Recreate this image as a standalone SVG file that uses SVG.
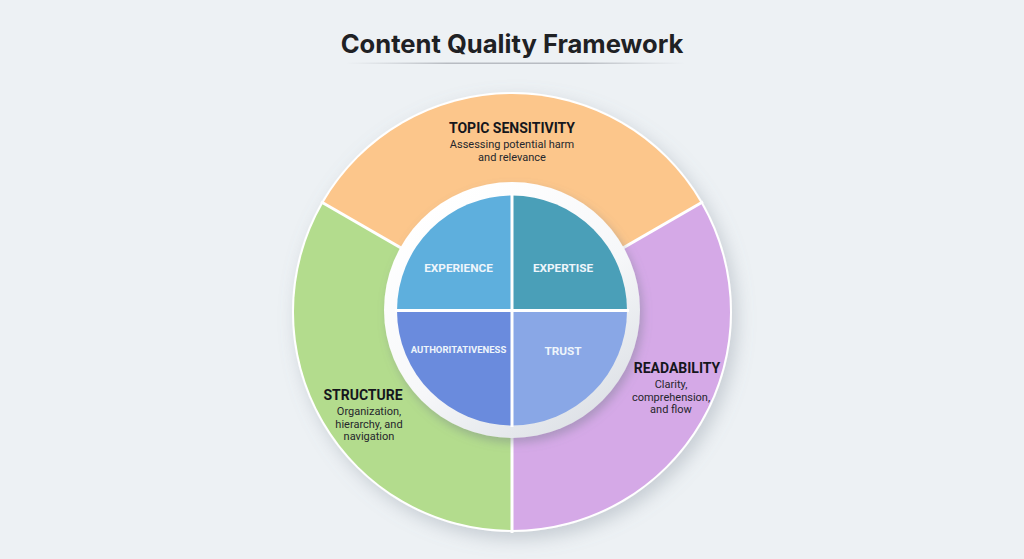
<svg xmlns="http://www.w3.org/2000/svg" width="1024" height="559" viewBox="0 0 1024 559">
  <defs>
    <style>
      .title { font-family: Inter, "Liberation Sans", sans-serif; font-weight: 700; font-size: 25.6px; fill: #1f2124; }
      .head { font-family: Roboto, "Liberation Sans", sans-serif; font-weight: 700; font-size: 14px; fill: #15161c; }
      .sub { font-family: Roboto, "Liberation Sans", sans-serif; font-weight: 400; font-size: 11px; fill: #25262c; }
      .quad { font-family: Roboto, "Liberation Sans", sans-serif; font-weight: 700; font-size: 11.8px; fill: #eef5fb; }
      .quad-s { font-family: Roboto, "Liberation Sans", sans-serif; font-weight: 700; font-size: 9.5px; fill: #eef5fb; }
      .divider { stroke: #ffffff; stroke-width: 3; fill: none; }
    </style>
    <linearGradient id="rule" x1="0" x2="1" y1="0" y2="0">
      <stop offset="0" stop-color="#c4c8cd" stop-opacity="0"/>
      <stop offset="0.3" stop-color="#b8bcc2"/>
      <stop offset="0.7" stop-color="#b8bcc2"/>
      <stop offset="1" stop-color="#c4c8cd" stop-opacity="0"/>
    </linearGradient>
    <linearGradient id="ring" x1="0.2" y1="0.1" x2="0.8" y2="0.95">
      <stop offset="0" stop-color="#ffffff"/>
      <stop offset="0.55" stop-color="#f6f7f9"/>
      <stop offset="1" stop-color="#dde1e6"/>
    </linearGradient>
    <filter id="outerShadow" x="-20%" y="-20%" width="140%" height="140%">
      <feDropShadow dx="5" dy="7" stdDeviation="9" flood-color="#7d8794" flood-opacity="0.35"/>
    </filter>
    <filter id="innerShadow" x="-20%" y="-20%" width="140%" height="140%">
      <feDropShadow dx="3" dy="5" stdDeviation="5" flood-color="#6f7884" flood-opacity="0.4"/>
    </filter>
  </defs>

  <rect width="1024" height="559" fill="#edf1f4"/>

  <g id="title">
    <text class="title" x="512" y="53" text-anchor="middle">Content Quality Framework</text>
    <rect x="345" y="62.5" width="340" height="1.5" fill="url(#rule)"/>
  </g>

  <circle cx="512" cy="312" r="220" fill="#ffffff" filter="url(#outerShadow)"/>

  <g id="topic-sensitivity">
    <path d="M512,312 L323.2,203 A218,218 0 0 1 700.8,203 Z" fill="#fcc68b"/>
  </g>
  <g id="structure">
    <path d="M512,312 L512,530 A218,218 0 0 1 323.2,203 Z" fill="#b3dc8d"/>
  </g>
  <g id="readability">
    <path d="M512,312 L700.8,203 A218,218 0 0 1 512,530 Z" fill="#d5a9e7"/>
  </g>

  <g id="connectors">
    <line class="divider" x1="512" y1="312" x2="321" y2="201.8"/>
    <line class="divider" x1="512" y1="312" x2="703" y2="201.8"/>
    <line class="divider" x1="512" y1="312" x2="512" y2="533"/>
  </g>

  <g id="inner-ring">
    <circle cx="512" cy="310" r="128" fill="url(#ring)" filter="url(#innerShadow)"/>
  </g>

  <g id="experience">
    <path d="M512,310.5 L397,310.5 A115,115 0 0 1 512,195.5 Z" fill="#5eafdd"/>
    <text class="quad" x="458.5" y="272" text-anchor="middle">EXPERIENCE</text>
  </g>
  <g id="expertise">
    <path d="M512,310.5 L512,195.5 A115,115 0 0 1 627,310.5 Z" fill="#4a9fb8"/>
    <text class="quad" x="563" y="272" text-anchor="middle">EXPERTISE</text>
  </g>
  <g id="authoritativeness">
    <path d="M512,310.5 L512,425.5 A115,115 0 0 1 397,310.5 Z" fill="#6a8bdd"/>
    <text class="quad-s" x="458.5" y="353" text-anchor="middle">AUTHORITATIVENESS</text>
  </g>
  <g id="trust">
    <path d="M512,310.5 L627,310.5 A115,115 0 0 1 512,425.5 Z" fill="#89a7e6"/>
    <text class="quad" x="563" y="355" text-anchor="middle">TRUST</text>
  </g>
  <g id="quadrant-dividers">
    <line class="divider" x1="512" y1="194" x2="512" y2="427"/>
    <line class="divider" x1="395" y1="310.5" x2="629" y2="310.5"/>
  </g>

  <g id="topic-sensitivity-label">
    <text class="head" x="512" y="133" text-anchor="middle">TOPIC SENSITIVITY</text>
    <text class="sub" x="512" y="148" text-anchor="middle">Assessing potential harm</text>
    <text class="sub" x="512" y="160.5" text-anchor="middle">and relevance</text>
  </g>
  <g id="structure-label">
    <text class="head" x="363" y="400" text-anchor="middle">STRUCTURE</text>
    <text class="sub" x="369" y="415" text-anchor="middle">Organization,</text>
    <text class="sub" x="369" y="427.5" text-anchor="middle">hierarchy, and</text>
    <text class="sub" x="369" y="440" text-anchor="middle">navigation</text>
  </g>
  <g id="readability-label">
    <text class="head" x="677" y="373" text-anchor="middle">READABILITY</text>
    <text class="sub" x="671" y="388" text-anchor="middle">Clarity,</text>
    <text class="sub" x="671" y="400.5" text-anchor="middle">comprehension,</text>
    <text class="sub" x="671" y="413" text-anchor="middle">and flow</text>
  </g>
</svg>
